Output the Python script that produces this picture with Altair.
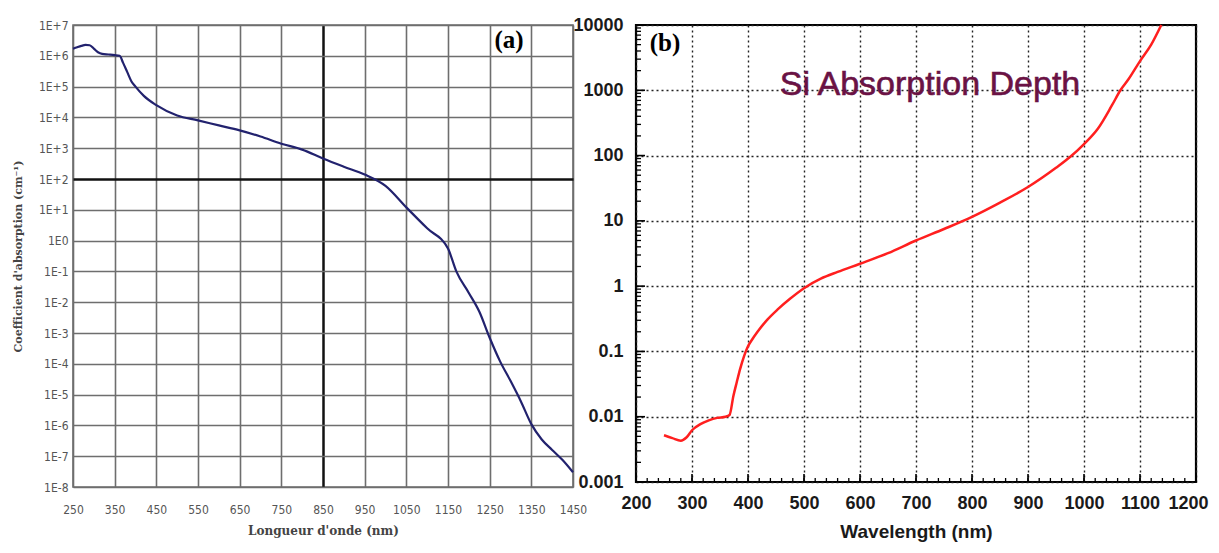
import json
import altair as alt
import pandas as pd

# ---------------- Panel (a): absorption coefficient ----------------
wl_a = [250, 260, 270, 280, 290, 300, 310, 320, 335, 350, 362, 370, 380, 390, 400,
        420, 450, 500, 550, 600, 650, 700, 750, 800, 850, 900, 950, 1000, 1050,
        1100, 1150, 1170, 1200, 1225, 1250, 1275, 1300, 1325, 1350, 1375, 1400,
        1425, 1450]
alpha_a = [1.7e6, 1.9e6, 2.1e6, 2.25e6, 2.2e6, 1.7e6, 1.3e6, 1.15e6, 1.1e6, 1.05e6,
           1.0e6, 6e5, 3e5, 1.5e5, 1.0e5, 5e4, 2.5e4, 1.15e4, 8e3, 5.5e3, 3.8e3,
           2.4e3, 1.4e3, 9e2, 4.6e2, 2.5e2, 1.4e2, 60, 12, 2.5, 0.55, 0.1, 0.02,
           5e-3, 7e-4, 1.2e-4, 2.8e-5, 6e-6, 1.1e-6, 3.5e-7, 1.6e-7, 7.5e-8, 3e-8]
xa_ticks = [250, 350, 450, 550, 650, 750, 850, 950, 1050, 1150, 1250, 1350, 1450]
ya_ticks = [1e-8, 1e-7, 1e-6, 1e-5, 1e-4, 1e-3, 1e-2, 1e-1, 1e0,
            1e1, 1e2, 1e3, 1e4, 1e5, 1e6, 1e7]
ya_labels = ["1E-8", "1E-7", "1E-6", "1E-5", "1E-4", "1E-3", "1E-2", "1E-1", "1E0",
             "1E+1", "1E+2", "1E+3", "1E+4", "1E+5", "1E+6", "1E+7"]
label_a = ["(a)"]

# ---------------- Panel (b): Si absorption depth ----------------
wl_b = [250, 265, 280, 290, 300, 315, 330, 345, 360, 367, 374, 380, 386, 393, 399,
        408, 417, 435, 453, 475, 500, 530, 560, 600, 650, 700, 750, 800, 850, 900,
        950, 975, 1000, 1025, 1050, 1065, 1080, 1100, 1120, 1138]
depth_b = [0.0052, 0.0047, 0.0043, 0.0048, 0.0062, 0.0077, 0.0088, 0.0096, 0.0100,
           0.0106, 0.021, 0.034, 0.054, 0.085, 0.115, 0.155, 0.2, 0.31, 0.44, 0.64,
           0.93, 1.3, 1.65, 2.2, 3.2, 5.0, 7.5, 11.5, 19, 33, 65, 95, 150, 260, 590,
           1000, 1500, 2800, 5000, 10000]
xb_ticks = [200, 300, 400, 500, 600, 700, 800, 900, 1000, 1100, 1200]
xb_minor = list(range(200, 1201, 20))
yb_ticks = [0.001, 0.01, 0.1, 1, 10, 100, 1000, 10000]
yb_labels = ["0.001", "0.01", "0.1", "1", "10", "100", "1000", "10000"]
yb_minor = [m * 10.0 ** k for k in range(-3, 4) for m in range(2, 10)]
title_b = ["Si Absorption Depth"]
label_b = ["(b)"]

NARROW = "Liberation Sans Narrow, Arial Narrow, DejaVu Sans Condensed, sans-serif"
SERIF = "DejaVu Serif"

# ---------------- chart (a) ----------------
df_a = pd.DataFrame({"wl": wl_a, "alpha": alpha_a})
label_expr_a = json.dumps(ya_labels) + "[round(log(datum.value)/LN10)+8]"

xa = alt.X("wl:Q",
           scale=alt.Scale(domain=[250, 1450], nice=False, zero=False),
           axis=alt.Axis(values=xa_ticks, format="d", title="Longueur d'onde (nm)",
                         grid=True,
                         gridColor={"condition": {"test": "datum.value == 850", "value": "#111111"},
                                    "value": "#6e6e6e"},
                         gridWidth={"condition": {"test": "datum.value == 850", "value": 2.5},
                                    "value": 1.6},
                         ticks=False, domain=False, labelFlush=False,
                         labelFont=NARROW, labelFontSize=12, labelColor="#555555",
                         labelPadding=17,
                         titleFont=SERIF, titleFontSize=12, titleFontWeight="bold",
                         titleColor="#444444", titlePadding=10))
ya = alt.Y("alpha:Q",
           scale=alt.Scale(type="log", domain=[1e-8, 1e7], nice=False),
           axis=alt.Axis(values=ya_ticks, labelExpr=label_expr_a,
                         title="Coefficient d'absorption (cm⁻¹)",
                         grid=True,
                         gridColor={"condition": {"test": "abs(log(datum.value)/LN10 - 2) < 0.01",
                                                  "value": "#111111"},
                                    "value": "#6e6e6e"},
                         gridWidth={"condition": {"test": "abs(log(datum.value)/LN10 - 2) < 0.01",
                                                  "value": 2.5},
                                    "value": 1.6},
                         ticks=False, domain=False, labelFlush=False,
                         labelFont=NARROW, labelFontSize=12, labelColor="#555555",
                         labelPadding=5, minExtent=36, maxExtent=36,
                         titleFont=SERIF, titleFontSize=11, titleFontWeight="bold",
                         titleColor="#444444", titlePadding=14))

line_a = alt.Chart(df_a).mark_line(color="#22226e", strokeWidth=2.2,
                                   interpolate="monotone").encode(x=xa, y=ya)
text_a = alt.Chart(pd.DataFrame({"t": label_a})).mark_text(
    font="Liberation Serif", fontSize=25, fontWeight="bold", color="black",
    align="center", baseline="middle").encode(
    x=alt.value(436), y=alt.value(15), text="t:N")

chart_a = alt.layer(line_a, text_a).properties(
    width=500, height=462,
    view=alt.ViewBackground(stroke="#6e6e6e", strokeWidth=1.6))

# ---------------- chart (b) ----------------
df_b = pd.DataFrame({"wl": wl_b, "depth": depth_b})
label_expr_b = json.dumps(yb_labels) + "[round(log(datum.value)/LN10)+3]"

xb = alt.X("wl:Q",
           scale=alt.Scale(domain=[200, 1200], nice=False, zero=False),
           axis=alt.Axis(values=xb_ticks, format="d", title="Wavelength (nm)",
                         grid=True, gridColor="#222222", gridDash=[2, 3], gridWidth=1.4,
                         ticks=False, domain=False, labelFlush=False,
                         labelFont="Liberation Sans", labelFontSize=18,
                         labelFontWeight="bold", labelColor="#1a1a1a", labelPadding=12,
                         labelAlign={"condition": {"test": "datum.value == 1200", "value": "right"},
                                     "value": "center"},
                         labelOffset={"condition": {"test": "datum.value == 1200", "value": 12},
                                      "value": 0},
                         titleFont="Liberation Sans", titleFontSize=19,
                         titleFontWeight="bold", titleColor="#1a1a1a", titlePadding=10))
yb = alt.Y("depth:Q",
           scale=alt.Scale(type="log", domain=[0.001, 10000], nice=False),
           axis=alt.Axis(values=yb_ticks, labelExpr=label_expr_b, title=None,
                         grid=True, gridColor="#222222", gridDash=[2, 3], gridWidth=1.4,
                         ticks=False, domain=False, labelFlush=False,
                         labelFont="Liberation Sans", labelFontSize=18,
                         labelFontWeight="bold", labelColor="#1a1a1a", labelPadding=13))

line_b = alt.Chart(df_b).mark_line(color="#ff1f1f", strokeWidth=2.5,
                                   interpolate="monotone").encode(x=xb, y=yb)

H_B = 457
xmaj = alt.Chart(pd.DataFrame({"wl": xb_ticks})).mark_rule(color="black", strokeWidth=1.6).encode(
    x="wl:Q", y=alt.value(H_B), y2=alt.value(H_B - 8))
xmin = alt.Chart(pd.DataFrame({"wl": xb_minor})).mark_rule(color="black", strokeWidth=1.3).encode(
    x="wl:Q", y=alt.value(H_B), y2=alt.value(H_B - 4))
ymaj = alt.Chart(pd.DataFrame({"depth": yb_ticks})).mark_rule(color="black", strokeWidth=1.6).encode(
    y="depth:Q", x=alt.value(0), x2=alt.value(9))
ymin = alt.Chart(pd.DataFrame({"depth": yb_minor})).mark_rule(color="black", strokeWidth=1.3).encode(
    y="depth:Q", x=alt.value(0), x2=alt.value(5))

title_txt = alt.Chart(pd.DataFrame({"t": title_b})).mark_text(
    font="Liberation Sans", fontSize=34, color="#6a1244",
    stroke="#6a1244", strokeWidth=0.6,
    align="center", baseline="middle").encode(
    x=alt.value(294), y=alt.value(60), text="t:N")
text_b = alt.Chart(pd.DataFrame({"t": label_b})).mark_text(
    font="Liberation Serif", fontSize=25, fontWeight="bold", color="black",
    align="center", baseline="middle").encode(
    x=alt.value(29), y=alt.value(18), text="t:N")

chart_b = alt.layer(line_b, xmaj, xmin, ymaj, ymin, title_txt, text_b).properties(
    width=560, height=H_B,
    view=alt.ViewBackground(stroke="black", strokeWidth=2.2))

chart = alt.hconcat(chart_a, chart_b, spacing=63, bounds="flush").properties(
    padding={"left": 3, "top": 6, "right": 0, "bottom": 0}
).configure(background="white")

chart.save("out.html", embed_options={"renderer": "svg", "actions": False})
